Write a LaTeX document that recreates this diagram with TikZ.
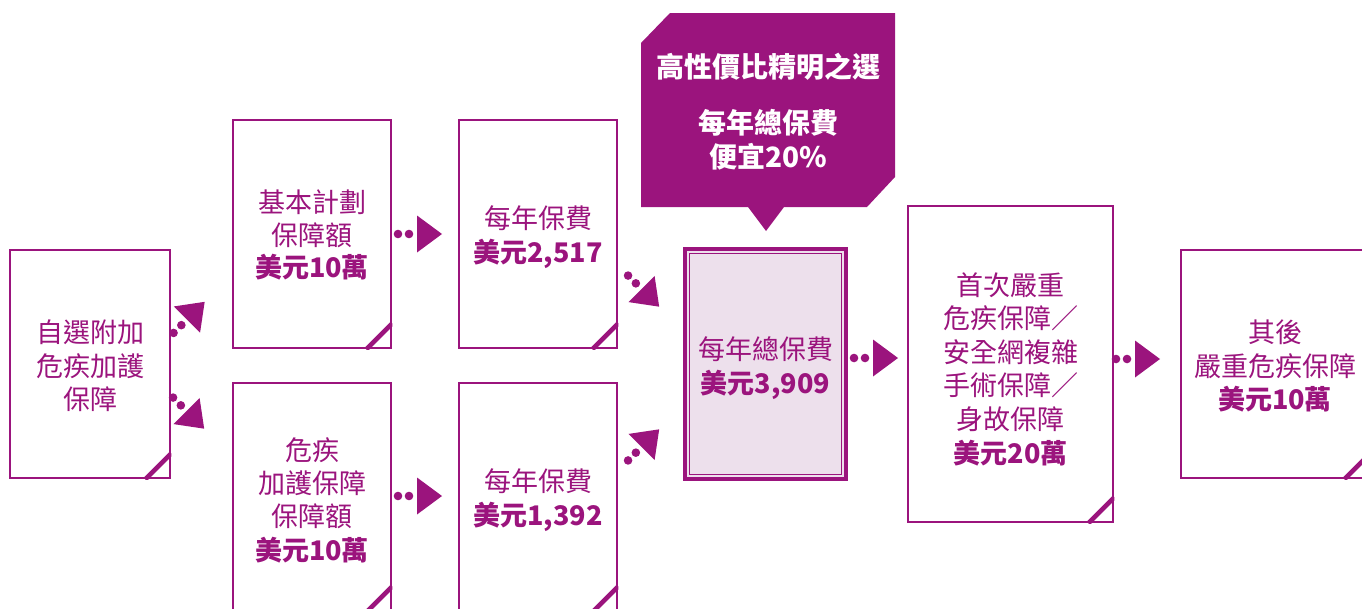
\documentclass[tikz,border=0pt]{standalone}
\usepackage{fontspec}
\setmainfont{Noto Sans CJK TC}
\definecolor{pp}{RGB}{155,20,125}
\definecolor{pfill}{RGB}{237,224,236}
\tikzset{
  box/.style={draw=pp, line width=2.6pt, inner sep=0pt, fill=white},
  txt/.style={text=pp, align=center, inner sep=0pt, font=\fontsize{27}{33.4}\selectfont},
  fold/.style={draw=pp, line width=4.5pt},
  conn/.pic={
    \fill[pp] (-19,0) circle[radius=4.3pt] (-8,0) circle[radius=4.3pt];
    \fill[pp] (0,-18.5) -- (25,0) -- (0,18.5) -- cycle;
  },
}
\newcommand\foldcorner[1]{%
  \begin{scope}
    \clip (#1.south west) rectangle (#1.north east);
    \draw[fold] ([xshift=-26pt]#1.south east) -- ([yshift=26pt]#1.south east);
  \end{scope}}
\begin{document}
\begin{tikzpicture}[x=1pt,y=-1pt]
\useasboundingbox (0,0) rectangle (1362,608);

% boxes
\node[box, minimum width=160pt, minimum height=228pt] (b1) at (90,364) {};
\node[box, minimum width=158pt, minimum height=228pt] (b2) at (312,234) {};
\node[box, minimum width=158pt, minimum height=228pt] (b3) at (538,234) {};
\node[box, minimum width=158pt, minimum height=228pt] (b4) at (312,497) {};
\node[box, minimum width=158pt, minimum height=228pt] (b5) at (538,497) {};
\node[box, fill=pfill, line width=4pt, minimum width=161pt, minimum height=230pt] (c) at (765.5,364) {};
\draw[pp, line width=1.3pt] ([shift={(6.6pt,-6.6pt)}]c.north west) rectangle ([shift={(-6.6pt,6.6pt)}]c.south east);
\node[box, minimum width=205pt, minimum height=316pt] (b6) at (1010.5,364) {};
\node[box, minimum width=188pt, minimum height=228pt] (b7) at (1275,364) {};

\foreach \n in {b1,b2,b3,b4,b5,b6,b7} {\foldcorner{\n}}

% texts
\node[txt] (t1) at ([yshift=-2pt]b1.center) {自選附加\\危疾加護\\保障};
\node[txt, font=\fontsize{27}{32.5}\selectfont] (t2) at ([yshift=-1pt]b2.center) {基本計劃\\保障額\\\textbf{美元10萬}};
\node[txt] (t3) at ([yshift=-3pt]b3.center) {每年保費\\\textbf{美元2,517}};
\node[txt] (t4) at ([yshift=-3pt]b4.center) {危疾\\加護保障\\保障額\\\textbf{美元10萬}};
\node[txt] (t5) at ([yshift=-3pt]b5.center) {每年保費\\\textbf{美元1,392}};
\node[txt] (tc) at ([yshift=-4pt]c.center) {每年總保費\\\textbf{美元3,909}};
\node[txt, font=\fontsize{27}{33.6}\selectfont] (t6) at ([yshift=-5pt]b6.center)
  {首次嚴重\\危疾保障／\\安全網複雜\\手術保障／\\身故保障\\\textbf{美元20萬}};
\node[txt] (t7) at ([yshift=-2pt]b7.center) {其後\\嚴重危疾保障\\\textbf{美元10萬}};

% connectors
\pic[rotate=45]  at (187,319.5) {conn};
\pic[rotate=-45] at (186.5,411) {conn};
\pic at (417,234) {conn};
\pic at (417,496) {conn};
\pic[rotate=-45] at (641.5,289) {conn};
\pic[rotate=45]  at (641.5,447) {conn};
\pic at (873,358) {conn};
\pic at (1135,359) {conn};

% callout
\fill[pp] (670,13) -- (895,13) -- (895,177) -- (867,207) -- (784,207) -- (766,231)
  -- (748,207) -- (641,207) -- (641,43) -- cycle;
\node[text=white, align=center, inner sep=0pt, font=\bfseries\fontsize{28}{34}\selectfont] (callout) at (768,112)
  {高性價比精明之選\\[22pt]每年總保費\\便宜20\%};
\end{tikzpicture}
\end{document}
